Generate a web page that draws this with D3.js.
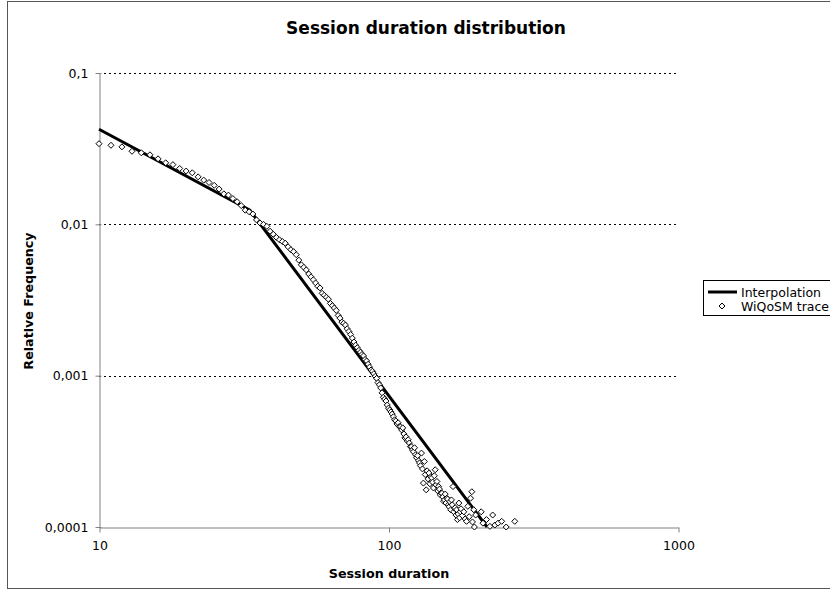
<!DOCTYPE html>
<html>
<head>
<meta charset="utf-8">
<script src="https://cdn.jsdelivr.net/npm/d3@7"></script>
<style>
  html, body { margin: 0; padding: 0; background: #fff; }
  svg { display: block; font-family: "DejaVu Sans", Verdana, sans-serif; }
</style>
</head>
<body>
<svg id="chart" width="830" height="594"></svg>
<script>
// session durations (x) and relative frequencies (y) of the trace
const durations = [
  10, 11, 12, 13, 14, 15, 16, 17, 18, 19, 20, 21, 22, 23, 24, 25, 26, 27, 28, 29,
  30, 31, 32, 33, 34, 35, 36, 37, 38, 39, 40, 41, 42, 43, 44, 45, 46, 47, 48, 49,
  50, 51, 52, 53, 54, 55, 56, 57, 58, 59, 60, 61, 62, 63, 64, 65, 66, 67, 68, 69,
  70, 71, 72, 73, 74, 75, 76, 77, 78, 79, 80, 81, 82, 83, 84, 85, 86, 87, 88, 89,
  90, 91, 92, 93, 94, 95, 96, 97, 98, 99, 100,
  101, 102, 103, 104, 105, 106, 107, 108, 109, 110, 111, 112, 113, 114, 115, 116, 117, 118, 119, 120,
  121, 122, 123, 124, 125, 126, 127, 128, 129, 130, 131, 132, 133, 134, 135, 136, 137, 138, 139, 140,
  141, 142, 143, 144, 145, 146, 147, 148, 149, 150, 151, 152, 153, 154, 155, 156, 157, 158, 159, 160,
  161, 162, 163, 164, 165, 166, 167, 168, 169, 170, 171, 172, 173, 174, 175, 176, 177, 178, 180, 182,
  184, 186, 188, 190, 192, 194, 195, 197, 198, 200, 209, 212, 218, 224, 229, 233, 239, 246, 255, 273
];
const frequencies = [
  0.0341, 0.0333, 0.0325, 0.0304, 0.0297, 0.0288, 0.0271, 0.0255, 0.0248, 0.0234,
  0.0225, 0.0219, 0.0206, 0.0196, 0.0189, 0.0181, 0.0171, 0.0159, 0.0156, 0.0148,
  0.0141, 0.0133, 0.0124, 0.0121, 0.0117, 0.0107, 0.0102, 0.0100, 0.0097, 0.0090,
  0.0086, 0.0082, 0.0079, 0.0077, 0.0075, 0.0071, 0.0068, 0.0066, 0.0063, 0.0058,
  0.0054, 0.0052, 0.0050, 0.0047, 0.0045, 0.0043, 0.0041, 0.0039, 0.0038, 0.0035,
  0.0034, 0.0033, 0.0032, 0.0030, 0.0029, 0.0028, 0.0027, 0.0025, 0.0024, 0.00226,
  0.00222, 0.00216, 0.00204, 0.00196, 0.00187, 0.00177, 0.00167, 0.00159, 0.00153, 0.00147,
  0.00143, 0.00138, 0.00135, 0.00128, 0.00125, 0.00119, 0.00114, 0.00109, 0.00107, 0.00103,
  0.00099, 0.00096, 0.00090, 0.00087, 0.00083, 0.00077, 0.00072, 0.00070, 0.00068, 0.00064, 0.00061,
  0.000594, 0.000576, 0.000558, 0.000535, 0.000511, 0.000503, 0.00048, 0.000488, 0.000461, 0.000459,
  0.000438, 0.000452, 0.000412, 0.000388, 0.000394, 0.000371, 0.000377, 0.000359, 0.00034, 0.000339,
  0.000323, 0.000314, 0.000334, 0.0003, 0.000287, 0.000296, 0.000274, 0.000265, 0.000254, 0.000308,
  0.000242, 0.000195, 0.000271, 0.000222, 0.000176, 0.000235, 0.000208, 0.000227, 0.000193, 0.000215,
  0.000211, 0.000198, 0.000181, 0.000218, 0.000239, 0.00019, 0.0002, 0.000173, 0.000185, 0.000178,
  0.000163, 0.000168, 0.000167, 0.000158, 0.000148, 0.000151, 0.000165, 0.000144, 0.000155, 0.000153,
  0.00014, 0.000136, 0.000147, 0.00013, 0.000151, 0.00014, 0.000185, 0.000126, 0.000133, 0.000134,
  0.00012, 0.00013, 0.000112, 0.000122, 0.000144, 0.000115, 0.000126, 0.000132, 0.000119, 0.000126,
  0.000113, 0.000109, 0.000137, 0.000117, 0.000155, 0.000171, 0.000108, 0.00013, 0.0001, 0.00012,
  0.000126, 0.000106, 0.000112, 0.000101, 0.00012, 0.000103, 0.000106, 0.000109, 0.0001, 0.000109
];

// piecewise power-law interpolation
const fitDurations = [10, 33.2, 219];
const fitFrequencies = [0.0425, 0.0124, 0.0001];

const xTicks = [10, 100, 1000];
const xTickLabels = ['10', '100', '1000'];
const yTicks = [0.0001, 0.001, 0.01, 0.1];
const yTickLabels = ['0,0001', '0,001', '0,01', '0,1'];

const seriesNames = ['Interpolation', 'WiQoSM trace'];

const svg = d3.select('#chart');
const plot = { left: 99, right: 678, top: 73, bottom: 527 };

const x = d3.scaleLog().domain([10, 1000]).range([plot.left, plot.right]);
const y = d3.scaleLog().domain([0.0001, 0.1]).range([plot.bottom, plot.top]);

// chart area frame (right edge lies outside the window)
svg.append('rect')
  .attr('x', 7.5).attr('y', 1.5)
  .attr('width', 840).attr('height', 587)
  .attr('fill', 'none').attr('stroke', '#555').attr('stroke-width', 1);

svg.append('text')
  .attr('x', 426).attr('y', 34)
  .attr('text-anchor', 'middle')
  .attr('font-size', 17).attr('font-weight', 'bold')
  .text('Session duration distribution');

// dotted gridlines
svg.append('g')
  .selectAll('line')
  .data(yTicks.filter(d => d > 0.0001))
  .join('line')
  .attr('x1', plot.left).attr('x2', plot.right)
  .attr('y1', d => Math.round(y(d)) + 0.5).attr('y2', d => Math.round(y(d)) + 0.5)
  .attr('stroke', '#000').attr('stroke-width', 1)
  .attr('stroke-dasharray', '2,3');

// x axis
const xAxis = d3.axisBottom(x)
  .tickValues(xTicks)
  .tickFormat((d, i) => xTickLabels[i])
  .tickSizeInner(5).tickSizeOuter(0).tickPadding(9);
const gx = svg.append('g')
  .attr('transform', `translate(0.5,${Math.round(y(0.0001)) + 0.5})`)
  .call(xAxis);
gx.select('.domain').attr('stroke', '#808080');
gx.selectAll('.tick line').attr('stroke', '#808080');
gx.selectAll('.tick text')
  .attr('font-size', 12.5).attr('fill', '#000')
  .attr('font-family', '"DejaVu Sans", Verdana, sans-serif');

// y axis
const yAxis = d3.axisLeft(y)
  .tickValues(yTicks)
  .tickFormat((d, i) => yTickLabels[i])
  .tickSizeInner(4).tickSizeOuter(0).tickPadding(7);
const gy = svg.append('g')
  .attr('transform', `translate(${plot.left + 0.5},0)`)
  .call(yAxis);
gy.select('.domain').attr('stroke', '#808080');
gy.selectAll('.tick line').attr('stroke', '#808080').attr('x2', 2).attr('x1', -4);
gy.selectAll('.tick text')
  .attr('font-size', 12.5).attr('fill', '#000')
  .attr('font-family', '"DejaVu Sans", Verdana, sans-serif');

svg.append('text')
  .attr('x', 389).attr('y', 578)
  .attr('text-anchor', 'middle')
  .attr('font-size', 12.7).attr('font-weight', 'bold')
  .text('Session duration');

svg.append('text')
  .attr('transform', 'translate(33,301) rotate(-90)')
  .attr('text-anchor', 'middle')
  .attr('font-size', 12.7).attr('font-weight', 'bold')
  .text('Relative Frequency');

// interpolation line
const fit = fitDurations.map((d, i) => [d, fitFrequencies[i]]);
svg.append('path')
  .datum(fit)
  .attr('fill', 'none')
  .attr('stroke', '#000')
  .attr('stroke-width', 3)
  .attr('d', d3.line().x(d => x(d[0])).y(d => y(d[1])));

// trace markers (open diamonds)
const diamond = 'M0,-3L3,0L0,3L-3,0Z';
const trace = durations.map((d, i) => [d, frequencies[i]]);
svg.append('g')
  .selectAll('path')
  .data(trace)
  .join('path')
  .attr('transform', d => `translate(${x(d[0])},${y(d[1])})`)
  .attr('d', diamond)
  .attr('fill', '#fff')
  .attr('stroke', '#000')
  .attr('stroke-width', 1);

// legend
const legend = svg.append('g').attr('transform', 'translate(703,280)');
legend.append('rect')
  .attr('x', 0.5).attr('y', 0.5)
  .attr('width', 150).attr('height', 35)
  .attr('fill', '#fff').attr('stroke', '#000');
legend.append('line')
  .attr('x1', 5).attr('x2', 34)
  .attr('y1', 12).attr('y2', 12)
  .attr('stroke', '#000').attr('stroke-width', 3);
legend.append('path')
  .attr('transform', 'translate(19,26)')
  .attr('d', diamond)
  .attr('fill', '#fff').attr('stroke', '#000');
legend.selectAll('text.lbl')
  .data(seriesNames)
  .join('text')
  .attr('class', 'lbl')
  .attr('x', 38)
  .attr('y', (d, i) => 16.5 + i * 14.5)
  .attr('font-size', 12.5)
  .text(d => d);
</script>
</body>
</html>
